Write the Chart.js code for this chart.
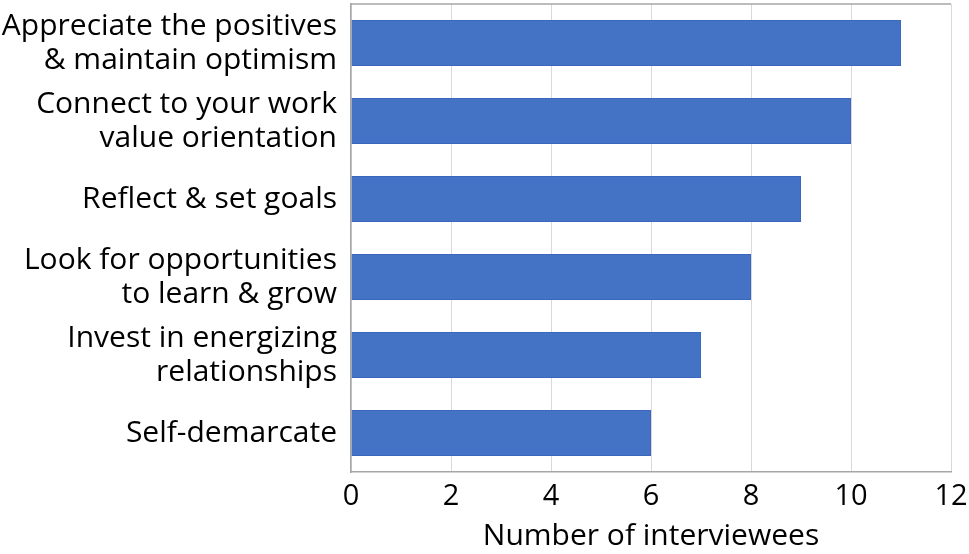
<!DOCTYPE html>
<html>
<head>
<meta charset="utf-8">
<script src="https://cdn.jsdelivr.net/npm/chart.js@4.4.0/dist/chart.umd.min.js"></script>
<style>
  html, body { margin: 0; padding: 0; background: #fff; }
  #wrap { width: 969px; height: 554px; position: relative; }
</style>
</head>
<body>
<div id="wrap"><canvas id="strategy-chart"></canvas></div>
<script>
// Strategies vs number of interviewees
const categories = [
    ['Appreciate the positives', '& maintain optimism'],
    ['Connect to your work', 'value orientation'],
    'Reflect & set goals',
    ['Look for opportunities', 'to learn & grow'],
    ['Invest in energizing', 'relationships'],
    'Self-demarcate'
];
const interviewees = [11, 10, 9, 8, 7, 6];
const xTicks = [0, 2, 4, 6, 8, 10, 12];
const axisTitle = 'Number of interviewees';

const fontFamily = '"Open Sans", Lato, sans-serif';

// draws the top frame line of the plot area
const topBorder = {
    id: 'topBorder',
    afterDraw(chart) {
        const { ctx, chartArea } = chart;
        ctx.save();
        ctx.strokeStyle = '#a6a6a6';
        ctx.lineWidth = 1.5;
        ctx.beginPath();
        ctx.moveTo(chartArea.left, chartArea.top);
        ctx.lineTo(chartArea.right, chartArea.top);
        ctx.stroke();
        ctx.restore();
    }
};

new Chart(document.getElementById('strategy-chart'), {
    type: 'bar',
    data: {
        labels: categories,
        datasets: [{
            label: axisTitle,
            data: interviewees,
            backgroundColor: '#4472c4',
            borderColor: '#3a67bd',
            borderWidth: 1,
            barPercentage: 0.59,
            categoryPercentage: 1.0
        }]
    },
    options: {
        indexAxis: 'y',
        responsive: true,
        maintainAspectRatio: false,
        animation: false,
        layout: { padding: { top: 4, right: 18, bottom: 0, left: 0 } },
        plugins: {
            legend: { display: false },
            tooltip: { enabled: false }
        },
        scales: {
            x: {
                min: 0,
                max: 12,
                afterBuildTicks: (scale) => { scale.ticks = xTicks.map(v => ({ value: v })); },
                grid: { color: '#d9d9d9', lineWidth: 1, drawTicks: false },
                border: { color: '#a6a6a6', width: 1.5 },
                ticks: {
                    color: '#000',
                    font: { family: fontFamily, size: 29 },
                    padding: 7
                },
                title: {
                    display: true,
                    text: axisTitle,
                    color: '#000',
                    font: { family: fontFamily, size: 30 },
                    padding: { top: 2, bottom: 0 }
                },
                afterFit: (scale) => {
                    scale.height = 82;
                    scale.paddingLeft = 0;
                    scale.paddingRight = 0;
                }
            },
            y: {
                grid: { display: false, drawTicks: false },
                border: { color: '#a6a6a6', width: 1.5 },
                ticks: {
                    color: '#000',
                    font: { family: fontFamily, size: 30, lineHeight: '34px' },
                    padding: 14
                },
                afterFit: (scale) => {
                    scale.width = 351;
                    scale.paddingTop = 0;
                    scale.paddingBottom = 0;
                }
            }
        }
    },
    plugins: [topBorder]
});
</script>
</body>
</html>
